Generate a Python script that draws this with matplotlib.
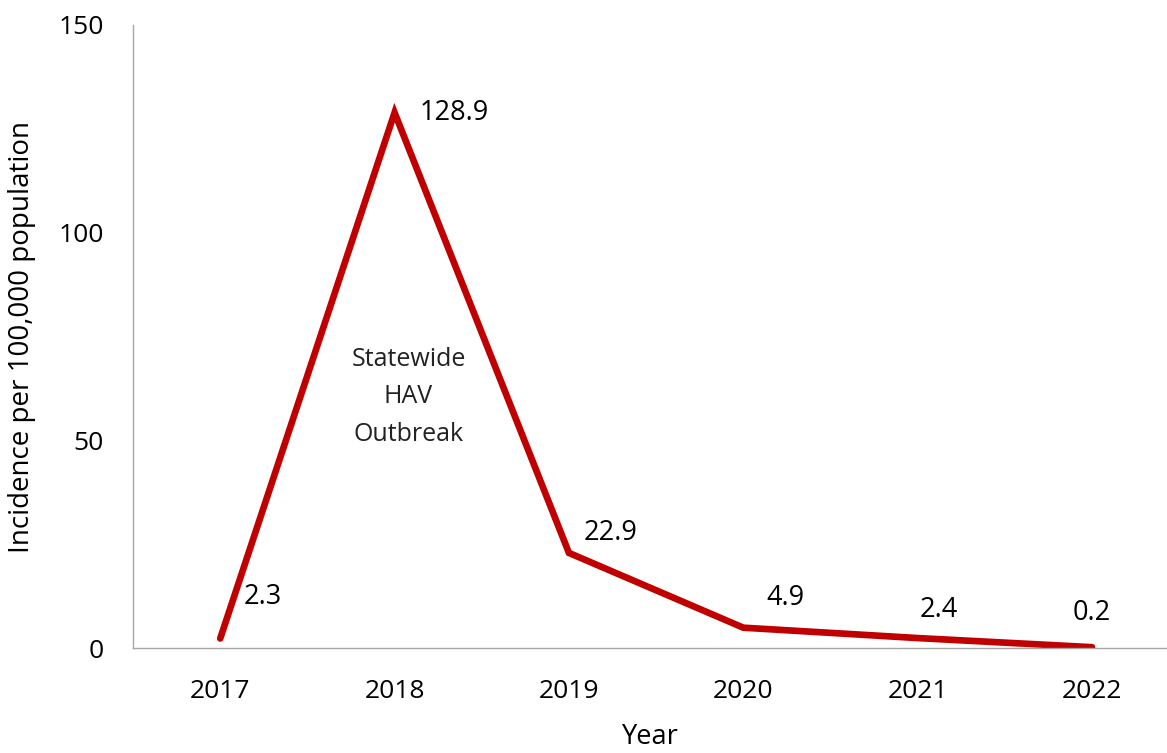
import matplotlib
matplotlib.use("Agg")
import matplotlib.pyplot as plt

years = ["2017", "2018", "2019", "2020", "2021", "2022"]
incidence = [2.3, 128.9, 22.9, 4.9, 2.4, 0.2]
value_labels = ["2.3", "128.9", "22.9", "4.9", "2.4", "0.2"]
y_ticks = [0, 50, 100, 150]

label_offsets = [(43, 41), (60, 0), (42, 20), (42, 30), (21, 28), (0, 34)]

plt.rcParams['font.family'] = ['Open Sans', 'DejaVu Sans']

fig = plt.figure(figsize=(11.67, 7.53), dpi=100)
ax = fig.add_axes([0.114, 0.1394, 0.886, 0.8274])

x = list(range(len(years)))
ax.plot(x, incidence, color="#C00000", linewidth=4.8, solid_capstyle="round", solid_joinstyle="miter")

for xi, yi, lab, off in zip(x, incidence, value_labels, label_offsets):
    ax.annotate(lab, (xi, yi), xytext=off, textcoords="offset pixels",
                ha="center", va="center", fontsize=19.5, color="black")

ax.text(1.08, 60.5, "Statewide\nHAV\nOutbreak", ha="center", va="center",
        fontsize=18, linespacing=1.65, color="#222222")

ax.set_xlim(-0.5, 5.43)
ax.set_ylim(0, 150)
ax.set_xticks(x)
ax.set_xticklabels(years)
ax.set_yticks(y_ticks)
ax.tick_params(axis="both", length=0, labelsize=19)
ax.tick_params(axis="y", pad=21)
ax.tick_params(axis="x", pad=22)

for s in ["top", "right"]:
    ax.spines[s].set_visible(False)
for s in ["left", "bottom"]:
    ax.spines[s].set_color("#A6A6A6")
    ax.spines[s].set_linewidth(1.0)

ax.set_ylabel("Incidence per 100,000 population", fontsize=20, labelpad=16)
ax.set_xlabel("Year", fontsize=19.5, labelpad=14)

fig.savefig("out.png", dpi=100)
